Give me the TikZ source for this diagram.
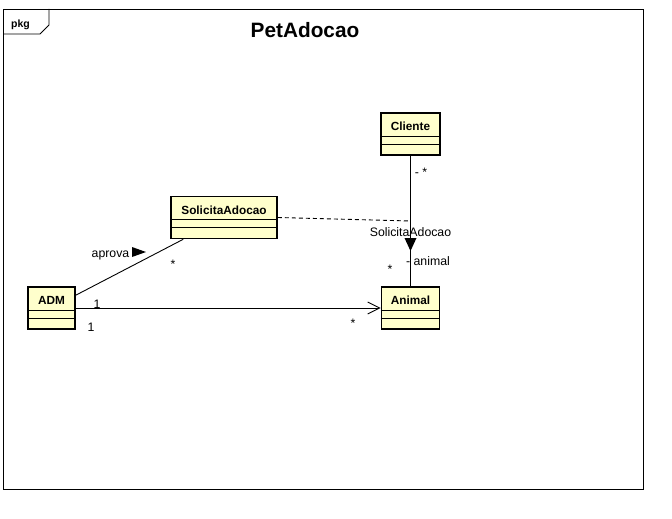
\documentclass[tikz,border=0pt]{standalone}
\usepackage{fontspec}
\setmainfont{Liberation Sans}
\usetikzlibrary{arrows.meta,calc}
\definecolor{classfill}{RGB}{255,255,204}
\tikzstyle{classbox}=[draw,line width=1.6pt,fill=classfill,minimum height=42pt,inner sep=0pt]
\tikzstyle{classname}=[font=\fontsize{11.8}{13}\selectfont\bfseries,anchor=base,inner sep=0pt]
\tikzstyle{compartment}=[draw,line width=0.9pt]
\tikzstyle{edge}=[draw,line width=0.9pt]
\tikzstyle{weight}=[font=\fontsize{12.3}{14}\selectfont,anchor=base,inner sep=0pt]

\begin{document}
\begin{tikzpicture}[x=1pt,y=-1pt]
\useasboundingbox (0,0) rectangle (672,519);

% Frame
\draw[line width=0.9pt] (3,9) rectangle (643,489);
\draw[line width=0.9pt] (3,34) -- (40,34) -- (49,25) -- (49,9);
\node[font=\fontsize{10.5}{12}\selectfont\bfseries,anchor=base,inner sep=0pt] (pkg) at (20.5,27.5) {pkg};
\node[font=\fontsize{20.8}{24}\selectfont\bfseries,anchor=base,inner sep=0pt] (title) at (305,37.5) {PetAdocao};

% Classes
\foreach \pos/\name/\label/\w in {{(410.5,134)/cli/Cliente/59}, {(224,217.5)/sol/SolicitaAdocao/106}, {(51.5,308)/adm/ADM/47}, {(410.5,308)/ani/Animal/58}}
{
    \node[classbox,minimum width=\w pt] (\name) at \pos {};
    \node[classname] (\name-t) at ($(\name.north)+(0,18.5)$) {\label};
    \draw[compartment] ($(\name.north west)+(0,24)$) -- ($(\name.north east)+(0,24)$);
    \draw[compartment] ($(\name.north west)+(0,32)$) -- ($(\name.north east)+(0,32)$);
}

% Edges
\coordinate (assoc) at (410.5,221);
\path[edge] (cli) -- (ani);
\path[edge,dash pattern=on 4pt off 3pt] (sol.east) -- (assoc);
\path[edge] ($(adm.north east)+(0,9)$) -- ($(sol.south west)+(13,0)$);
\path[edge,-{Straight Barb[length=12pt,width=12pt]}] (adm) -- (ani);

% Direction marks
\fill ($(assoc)+(-6,17)$) -- ($(assoc)+(6,17)$) -- ($(assoc)+(0,30)$) -- cycle;
\fill (132,247) -- (132,257) -- (146,252) -- cycle;

% Label
\foreach \pos/\name/\label in {{(421,176.5)/clim/{- *}}, {(410.5,236)/asn/SolicitaAdocao}, {(428,265.5)/anim/{- animal}}, {(390,273)/anis/*}, {(173,268)/sols/*}, {(110.5,257)/apr/aprova}, {(97,308)/adma/1}, {(91,331.5)/admb/1}, {(353,327)/anit/*}}
    \node[weight] (\name) at \pos {\label};

\end{tikzpicture}
\end{document}
